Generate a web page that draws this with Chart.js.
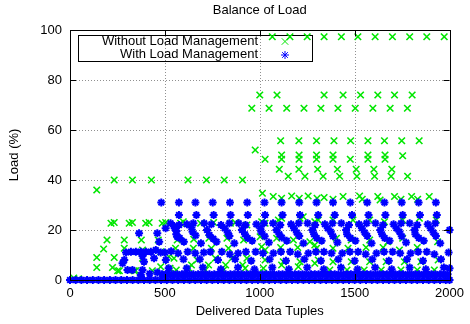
<!DOCTYPE html>
<html>
<head>
<meta charset="utf-8">
<script src="https://cdn.jsdelivr.net/npm/chart.js@4/dist/chart.umd.min.js"></script>
<style>
  html, body { margin: 0; padding: 0; background: #fff; }
  canvas { display: block; }
</style>
</head>
<body>
<canvas id="loadChart" width="470" height="324"></canvas>
<script>
const xTicks = [0, 500, 1000, 1500, 2000];
const yTicks = [0, 20, 40, 60, 80, 100];
const seriesNames = ['Without Load Management', 'With Load Management'];

// without load management (green x)
const withoutHigh = [
  [1066, 97.3], [1159, 97.3], [1250, 97.3], [1339, 97.3], [1430, 97.3], [1517, 97.3],
  [1608, 97.3], [1699, 97.3], [1790, 97.3], [1880, 97.3], [1972, 97.3],
  [1000, 74], [1091, 74], [1339, 74], [1439, 74], [1531, 74], [1622, 74], [1710, 74], [1803, 74],
  [958, 68.7], [1049, 68.7], [1142, 68.7], [1233, 68.7], [1322, 68.7], [1412, 68.7],
  [1503, 68.7], [1596, 68.7], [1687, 68.7], [1778, 68.7],
  [1110, 55.7], [1206, 55.7], [1299, 55.7], [1391, 55.7], [1479, 55.7], [1570, 55.7],
  [1657, 55.7], [1748, 55.7], [1840, 55.7],
  [976, 52],
  [1115, 50], [1207, 50], [1299, 50], [1386, 50], [1570, 50], [1660, 50], [1753, 49.7],
  [1028, 48.3], [1115, 48.3], [1207, 48.3], [1299, 48.3], [1386, 48.3], [1477, 48.3],
  [1570, 48.3], [1660, 48.3],
  [1103, 44.3], [1206, 44.3], [1305, 44.3], [1409, 44.3], [1508, 44.3], [1601, 44.3], [1696, 44.3],
  [1150, 41.5], [1238, 41.5], [1334, 41.5], [1421, 41.5], [1512, 41.5], [1605, 41.5],
  [1692, 41.5], [1779, 41.5],
  [233, 40], [329, 40], [429, 40], [622, 40], [719, 40], [813, 40], [909, 40],
  [141, 36],
  [1014, 34.7], [1071, 33.4], [1168, 33.6], [1255, 33.6], [1339, 33], [1439, 33.4],
  [1526, 33.6], [1622, 33.4], [1710, 33.4], [1800, 33.4], [1893, 33.4],
  [1115, 32.7], [1208, 32.7], [1302, 32.7], [1386, 32.3], [1540, 32.3], [1634, 32],
  [1744, 32.3], [1832, 32.3]
];
const withoutLowLeft = [
  [216, 22.7], [233, 23], [312, 22.7], [329, 23], [399, 22.7], [417, 23], [486, 22.7],
  [504, 23], [583, 22.7], [597, 23.3], [688, 22.7], [757, 23], [845, 22.7], [871, 23], [932, 22],
  [195, 16], [286, 16], [376, 16], [465, 16], [565, 16], [652, 16.3], [732, 16.7], [827, 16.7], [915, 16],
  [177, 12.4], [286, 12.7], [382, 12], [478, 11.3], [556, 12.7], [650, 12.7], [745, 12.7], [835, 12.7],
  [141, 9], [233, 9], [382, 8.7], [521, 9.3], [548, 8.7], [670, 8], [766, 8.7], [853, 8.7], [932, 8.7],
  [141, 5], [224, 5], [478, 5.3], [527, 4.7], [626, 4.7], [640, 6], [730, 6], [820, 6], [910, 6],
  [251, 3.7], [260, 3.7], [338, 3.7], [346, 3.7], [434, 3.7], [560, 4], [714, 4], [810, 4], [923, 4.7],
  [20, 0.8], [45, 0.5]
];
const withoutLowRight = [
  [1010, 23.3], [1028, 22.7], [1098, 24], [1115, 24.7], [1212, 24.7], [1229, 25.3], [1290, 23.3],
  [1308, 24], [1386, 24], [1491, 24], [1579, 24], [1657, 23.3], [1753, 24], [1841, 24.7], [1930, 24],
  [1002, 17.3], [1089, 16.7], [1177, 16], [1264, 15.3], [1404, 16.7], [1482, 16], [1579, 16],
  [1675, 15.3], [1753, 16.7], [1937, 15.3],
  [1010, 13.3], [1028, 12], [1110, 13], [1200, 13], [1290, 14], [1299, 12.7], [1386, 12.7],
  [1465, 12.7], [1560, 13], [1650, 13], [1736, 12], [1830, 13],
  [1028, 8], [1124, 7.3], [1212, 7.3], [1308, 8], [1386, 7.3], [1482, 7.3], [1579, 7.3],
  [1666, 7.3], [1762, 7.3], [1849, 7.3], [1940, 8],
  [1019, 4.7], [1115, 6], [1203, 5.3], [1290, 6.7], [1369, 4], [1460, 4], [1550, 4], [1640, 4],
  [1744, 4], [1830, 4], [1920, 4], [1019, 2.8]
];

// with load management (blue *)
const withRow31X = [481, 574, 661, 752, 843, 934, 1025, 1115, 1208, 1299, 1386, 1477, 1566, 1657, 1748, 1837, 1928];
const withRow26X = [574, 666, 757, 846, 937, 1028, 1120, 1212, 1308, 1395, 1486, 1573, 1662, 1753, 1844, 1933];
const withMid = [
  [364, 18.7], [460, 18.7], [295, 11], [321, 11.3], [347, 11.3], [373, 11.3], [400, 11.3],
  [426, 11.3], [452, 12], [286, 8], [390, 7.3], [443, 8.7], [382, 9.6], [277, 6.7], [303, 4],
  [329, 4], [382, 4], [373, 2], [420, 2.5], [460, 3],
  [504, 20.7], [548, 21.6], [561, 19.6], [565, 17.3], [470, 15.3], [478, 11], [500, 11], [505, 8], [520, 4.7],
  [530, 22.7], [575, 22], [552, 20.7], [560, 18.3], [578, 16.8], [600, 15.3], [533, 11.5], [570, 10.7], [598, 8.3], [615, 4.7],
  [616, 22.3], [650, 22.7], [640, 21], [646, 19.3], [662, 17.8], [690, 14.7], [620, 11.3], [660, 10.7], [684, 8.3], [700, 5],
  [707, 22.7], [745, 22.3], [722, 20], [735, 18], [755, 16.5], [772, 15.3], [705, 11], [740, 11.3], [780, 8], [795, 4.3],
  [796, 22], [840, 22.7], [815, 20.7], [831, 19], [840, 17.6], [866, 14.7], [800, 11.3], [842, 10.3], [870, 8.3], [885, 5],
  [889, 22.7], [925, 22], [906, 20], [922, 18.3], [936, 16.8], [960, 15.7], [886, 10.7], [927, 11.3], [955, 7.7], [972, 4.3],
  [982, 22.3], [1022, 22.7], [1003, 20.7], [1008, 19.3], [1026, 17.5], [1048, 15], [978, 11.3], [1017, 10.7], [1052, 8.3], [1066, 5],
  [1070, 22.7], [1108, 22], [1088, 20], [1103, 18.3], [1116, 17], [1142, 15.7], [1072, 10.7], [1112, 11.3], [1138, 7.7], [1153, 4.3],
  [1165, 22.3], [1205, 22.7], [1180, 20.7], [1195, 19], [1208, 17.6], [1230, 14.7], [1160, 11.3], [1200, 10.3], [1235, 8.3], [1250, 5],
  [1252, 22.7], [1292, 22], [1277, 20], [1286, 18.3], [1300, 16.8], [1326, 15.7], [1256, 10.7], [1296, 11.3], [1322, 7.7], [1337, 4.3],
  [1343, 22.3], [1383, 22.7], [1358, 20.7], [1374, 19.3], [1386, 17.5], [1409, 15], [1338, 11.3], [1378, 10.7], [1414, 8.3], [1428, 5],
  [1430, 22.7], [1470, 22], [1455, 20], [1460, 18.3], [1478, 16.8], [1504, 15.7], [1435, 10.7], [1475, 11.3], [1500, 7.7], [1515, 4.3],
  [1523, 22.3], [1563, 22.7], [1538, 20.7], [1553, 19], [1566, 17.6], [1589, 14.7], [1518, 11.3], [1558, 10.3], [1593, 8.3], [1608, 5],
  [1610, 22.7], [1650, 22], [1635, 20], [1644, 18.3], [1658, 16.8], [1684, 15.7], [1615, 10.7], [1655, 11.3], [1680, 7.7], [1695, 4.3],
  [1705, 22.3], [1745, 22.7], [1720, 20.7], [1736, 19.3], [1748, 17.5], [1771, 15], [1700, 11.3], [1740, 10.7], [1776, 8.3], [1790, 5],
  [1790, 22.7], [1830, 22], [1815, 20], [1820, 18.3], [1838, 16.8], [1864, 15.7], [1795, 10.7], [1835, 11.3], [1860, 7.7], [1875, 4.3],
  [1885, 22.3], [1925, 22.7], [1900, 20.7], [1915, 19], [1928, 17.6], [1951, 14.7], [1880, 11.3], [1920, 10.3], [1955, 8.3], [1970, 5],
  [2000, 20], [2000, 4.7], [1995, 11]
];
const withFloorX = [0, 30, 60, 90, 120, 150, 180, 210, 240, 270, 300, 330, 360, 390, 420, 450, 480,
  510, 540, 570, 600, 630, 660, 690, 720, 750, 780, 810, 840, 870, 900, 930, 960, 990, 1020, 1050,
  1080, 1110, 1140, 1170, 1200, 1230, 1260, 1290, 1320, 1350, 1380, 1410, 1440, 1470, 1500, 1530,
  1560, 1590, 1620, 1650, 1680, 1710, 1740, 1770, 1800, 1830, 1860, 1890, 1920, 1950, 1980, 2000];
const withBandX = [485, 505, 525, 545, 565, 590, 610, 630, 650, 675, 695, 715, 735, 760, 780, 800,
  820, 845, 865, 885, 905, 930, 950, 970, 990, 1015, 1035, 1055, 1075, 1100, 1120, 1140, 1160, 1185,
  1205, 1225, 1245, 1270, 1290, 1310, 1330, 1355, 1375, 1395, 1415, 1440, 1460, 1480, 1500, 1525,
  1545, 1565, 1585, 1610, 1630, 1650, 1670, 1695, 1715, 1735, 1755, 1780, 1800, 1820, 1840, 1865,
  1885, 1905, 1925, 1950, 1970, 1990];

const green = '#00e600';
const blue = '#0000ff';
const font = { family: "'Liberation Sans', Arial, sans-serif", size: 13 };

const toPoints = list => list.map(([x, y]) => ({ x, y }));
const rowPoints = (xs, y) => xs.map(x => ({ x, y }));

const withoutData = [...withoutHigh, ...withoutLowLeft, ...withoutLowRight].map(([x, y]) => ({ x, y }));
const withData = [
  ...rowPoints(withFloorX, 0),
  ...rowPoints(withBandX, 2.3),
  ...toPoints(withMid),
  ...rowPoints(withRow26X, 26),
  ...rowPoints(withRow31X, 31)
];

const marker = {
  without: { pointStyle: 'crossRot', radius: 4.6, borderWidth: 1.6 },
  with: { pointStyle: 'star', radius: 4, borderWidth: 2 }
};

const framePlugin = {
  id: 'frame',
  beforeDatasetsDraw(chart) {
    const { ctx, chartArea: a, scales: { x, y } } = chart;
    ctx.save();
    ctx.strokeStyle = '#909090';
    ctx.lineWidth = 1;
    ctx.setLineDash([1, 2]);
    x.ticks.forEach(t => {
      if (t.value <= x.min || t.value >= x.max) return;
      const px = Math.round(x.getPixelForValue(t.value)) + 0.5;
      ctx.beginPath(); ctx.moveTo(px, a.top); ctx.lineTo(px, a.bottom); ctx.stroke();
    });
    y.ticks.forEach(t => {
      if (t.value <= y.min || t.value >= y.max) return;
      const py = Math.round(y.getPixelForValue(t.value)) + 0.5;
      ctx.beginPath(); ctx.moveTo(a.left, py); ctx.lineTo(a.right, py); ctx.stroke();
    });
    ctx.setLineDash([]);

    // legend box
    ctx.strokeStyle = '#000';
    ctx.strokeRect(78.5, 35.5, 234, 26);
    ctx.fillStyle = '#000';
    ctx.font = `${font.size}px ${font.family}`;
    ctx.textAlign = 'right';
    ctx.textBaseline = 'middle';
    ctx.fillText(seriesNames[0], 258, 41.5);
    ctx.fillText(seriesNames[1], 258, 54.5);
    ctx.strokeStyle = green; ctx.fillStyle = green;
    Chart.helpers.drawPoint(ctx, marker.without, 285, 41.5);
    ctx.strokeStyle = blue; ctx.fillStyle = blue;
    Chart.helpers.drawPoint(ctx, marker.with, 285, 55);
    ctx.restore();
  },
  afterDatasetsDraw(chart) {
    const { ctx, chartArea: a, scales: { x, y } } = chart;
    const tick = 6;
    ctx.save();
    ctx.strokeStyle = '#000';
    ctx.lineWidth = 1;
    ctx.beginPath();
    x.ticks.forEach(t => {
      const px = Math.round(x.getPixelForValue(t.value)) + 0.5;
      ctx.moveTo(px, a.bottom); ctx.lineTo(px, a.bottom - tick);
      ctx.moveTo(px, a.top); ctx.lineTo(px, a.top + tick);
    });
    y.ticks.forEach(t => {
      const py = Math.round(y.getPixelForValue(t.value)) + 0.5;
      ctx.moveTo(a.left, py); ctx.lineTo(a.left + tick, py);
      ctx.moveTo(a.right, py); ctx.lineTo(a.right - tick, py);
    });
    ctx.stroke();
    ctx.strokeRect(Math.round(a.left) + 0.5, Math.round(a.top) + 0.5,
      Math.round(a.right - a.left), Math.round(a.bottom - a.top));
    ctx.restore();
  }
};

new Chart(document.getElementById('loadChart'), {
  type: 'scatter',
  data: {
    datasets: [
      {
        label: seriesNames[0],
        data: withoutData,
        pointStyle: marker.without.pointStyle,
        pointRadius: marker.without.radius,
        pointBorderWidth: marker.without.borderWidth,
        borderColor: green,
        backgroundColor: green,
        clip: false,
        order: 2
      },
      {
        label: seriesNames[1],
        data: withData,
        pointStyle: marker.with.pointStyle,
        pointRadius: marker.with.radius,
        pointBorderWidth: marker.with.borderWidth,
        borderColor: blue,
        backgroundColor: blue,
        clip: false,
        order: 1
      }
    ]
  },
  options: {
    responsive: false,
    animation: false,
    devicePixelRatio: 1,
    events: [],
    layout: { padding: { top: 0, right: 18, bottom: 0, left: 0 } },
    plugins: {
      legend: { display: false },
      tooltip: { enabled: false },
      title: {
        display: true,
        text: 'Balance of Load',
        color: '#000',
        font: { ...font, weight: 'normal' },
        fullSize: false,
        padding: { top: 2.8, bottom: 11.6 }
      }
    },
    scales: {
      x: {
        type: 'linear',
        min: 0,
        max: 2000,
        afterBuildTicks: s => { s.ticks = xTicks.map(value => ({ value })); },
        afterFit: s => { s.height = 44; },
        ticks: { color: '#000', font, padding: 6, maxRotation: 0, callback: v => String(v) },
        grid: { display: false, drawTicks: false },
        border: { display: false },
        title: { display: true, text: 'Delivered Data Tuples', color: '#000', font, padding: { top: 0, bottom: 4.4 } }
      },
      y: {
        type: 'linear',
        min: 0,
        max: 100,
        afterBuildTicks: s => { s.ticks = yTicks.map(value => ({ value })); },
        afterFit: s => { s.width = 70; },
        ticks: { color: '#000', font, padding: 8, callback: v => String(v) },
        grid: { display: false, drawTicks: false },
        border: { display: false },
        title: { display: true, text: 'Load (%)', color: '#000', font, padding: { top: 6.5, bottom: 0 } }
      }
    }
  },
  plugins: [framePlugin]
});
</script>
</body>
</html>
